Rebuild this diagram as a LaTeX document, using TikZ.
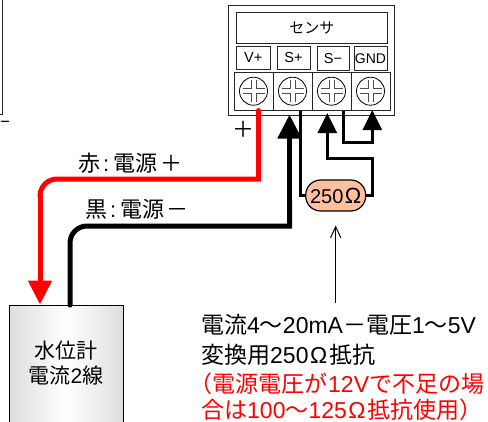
\documentclass[tikz,border=0pt]{standalone}
\usepackage{fontspec}
\setmainfont{Noto Sans CJK JP}
\newfontfamily\lat{Liberation Sans}
\usetikzlibrary{arrows.meta}
\definecolor{wirered}{RGB}{255,0,0}
\definecolor{pill}{RGB}{255,192,160}
\newcommand{\fs}[1]{\fontsize{#1}{#1}\selectfont}
\newcommand{\dg}[1]{{\lat\fontsize{23}{23}\selectfont #1}}
\tikzset{
  x=1pt,y=-1pt,
  panel/.style={draw=black!85,line width=0.9pt,inner sep=0pt,minimum width=#1,minimum height=23.5pt,font=\lat\fs{14.5}},
  termbox/.style={draw=black!85,line width=0.8pt,inner sep=0pt,minimum width=39pt,minimum height=38.5pt},
  screw/.style={draw=black,line width=0.8pt,circle,inner sep=0pt,minimum size=28pt},
  thickwire/.style={line width=5pt,line join=miter},
  thinwire/.style={line width=3pt},
  bighead/.style={-{Triangle[length=24pt,width=23pt]}},
  smallhead/.style={-{Triangle[length=20pt,width=19pt]}},
  label/.style={inner sep=0pt,font=\fs{23},anchor=west},
}
\begin{document}
\begin{tikzpicture}
\useasboundingbox (0,0) rectangle (488,421);
\clip (0,0) rectangle (488,421);
% left fragment
\draw[line width=0.9pt,black!85] (2.5,0) -- (2.5,114.5) -- (0,114.5);
\node[inner sep=0pt,font=\lat\fs{17},anchor=west] (minusfrag) at (0,124.5) {−};
% sensor
\node[draw=black!85,line width=1pt,inner sep=0pt,minimum width=166pt,minimum height=110pt] (sensor) at (311.5,60) {};
\node[panel=151.5pt,minimum height=30.5pt,font=\fs{15}] (title) at (311.75,27.8) {センサ};
\node[panel=34.5pt] (vp) at (253.3,57.8) {V+};
\node[panel=33pt] (sp) at (293.5,57.8) {S+};
\node[panel=32pt] (sm) at (333,58.5) {S−};
\node[panel=33pt,font=\lat\fs{14}] (gnd) at (370.5,58.3) {GND};
\foreach \n/\xx in {a/253.5,b/292.5,c/331.5,d/370.5}{
  \node[termbox] (t\n) at (\xx,91.2) {};
  \node[screw] (s\n) at (\xx,91.2) {};
  \draw[line width=0.6pt,black!70] (\xx-2.5,91.2-11) -- (\xx-2.5,91.2-2.5) -- (\xx-11,91.2-2.5)
     (\xx+2.5,91.2-11) -- (\xx+2.5,91.2-2.5) -- (\xx+11,91.2-2.5)
     (\xx-2.5,91.2+11) -- (\xx-2.5,91.2+2.5) -- (\xx-11,91.2+2.5)
     (\xx+2.5,91.2+11) -- (\xx+2.5,91.2+2.5) -- (\xx+11,91.2+2.5);
}
% meter
\node[draw=black,line width=1pt,inner sep=0pt,minimum width=113.5pt,minimum height=130pt,
  left color=black!13,right color=black!13,middle color=white] (meter) at (66.5,370) {};
\node[inner sep=0pt,align=center,font=\fs{21}] (metertext) at (66,363) {水位計\\[4pt]電流{\lat 2}線};
% resistor
\node[draw=black,line width=1.2pt,fill=pill,rounded corners=15pt,inner sep=0pt,minimum width=60pt,minimum height=31pt,font=\lat\fs{20}] (res) at (335.7,195.5) {250\kern1.5pt{\fs{22}Ω}};
% coordinates
\coordinate (redtop) at (258.5,110.5);
\coordinate (redmid) at (258.5,179);
\coordinate (redleft) at (40,179);
\coordinate (redend) at (40,304.5);
\coordinate (blkstart) at (70,305);
\coordinate (blkleft) at (70,226);
\coordinate (blkright) at (289.5,226);
\coordinate (blkend) at (289.5,114.5);
% wires
\draw[thickwire,wirered,line cap=round] (redtop) -- (redmid) -- (57,179) to[out=180,in=90] (40,196);
\draw[thickwire,wirered,bighead] (40,195) -- (redend);
\draw[thickwire,line cap=round] (blkstart) -- (70,243) to[out=90,in=180] (87,226) -- (blkright) -- (289.5,200);
\draw[thickwire,bighead] (289.5,226.5) -- (blkend);
\draw[thinwire] (300.7,110.5) -- (300.7,195.5) -- (res.west);
\draw[thinwire,smallhead] (res.east) -| (372.3,158) -| (327.3,113);
\draw[thinwire,smallhead] (343,110.5) |- (372.3,142) -- (372.3,110);
% pointer
\coordinate (ptrfoot) at (335.7,303);
\draw[line width=1pt,-{Straight Barb[length=11pt,width=20pt,angle'=50]}] (ptrfoot) -- (335.7,225.5);
% labels
\node[inner sep=0pt,font=\fs{22}] (plus) at (243.5,129) {＋};
\node[label,font=\fs{22}] (redlabel) at (78,163.5) {赤\kern3pt{\lat :}\kern4pt 電源\kern3pt＋};
\node[label,font=\fs{22}] (blacklabel) at (85,209.5) {黒\kern3pt{\lat :}\kern4pt 電源\kern2pt－};
\node[label] (l1) at (201,324.5) {電流\dg{4}～\dg{20mA}－電圧\dg{1}～\dg{5V}};
\node[label] (l2) at (201,355) {変換用\dg{250}\kern1.5pt\dg{Ω}\kern2pt 抵抗};
\node[label,text=wirered] (l3) at (201,384) {\kern-11.5pt（電源電圧が\kern.5pt\dg{12V}\kern.5pt で不足の場};
\node[label,text=wirered] (l4) at (201,409.5) {合は\dg{100}～\dg{125}\kern1.5pt\dg{Ω}\kern2pt 抵抗使用）};
\end{tikzpicture}
\end{document}
